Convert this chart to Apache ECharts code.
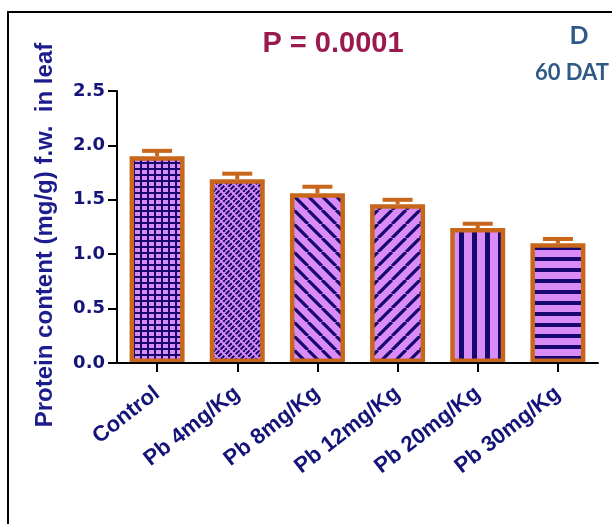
<!DOCTYPE html>
<html>
<head>
<meta charset="utf-8">
<script src="https://cdn.jsdelivr.net/npm/echarts@6/dist/echarts.min.js"></script>
<style>
  html, body { margin: 0; padding: 0; background: #ffffff; }
  #chart { width: 612px; height: 524px; }
</style>
</head>
<body>
<div id="chart"></div>
<script>
// Leaf protein content at 60 days after transplanting, by Pb dose
const categories = ['Control', 'Pb 4mg/Kg', 'Pb 8mg/Kg', 'Pb 12mg/Kg', 'Pb 20mg/Kg', 'Pb 30mg/Kg'];
const proteinMean = [1.90, 1.69, 1.56, 1.46, 1.24, 1.10];
const proteinErr = [0.05, 0.05, 0.06, 0.04, 0.04, 0.04];
const yTickValues = [0, 0.5, 1.0, 1.5, 2.0, 2.5];

const VIOLET = '#da8cf6';
const NAVY = '#16086e';
const ORANGE = '#c8661c';
const LABEL_BLUE = '#141478';
const FONT = '"Liberation Sans", Arial, sans-serif';
const WIDE_FONT = '"DejaVu Sans", Verdana, sans-serif';

// Build a repeating fill tile on a small canvas
function tile(w, h, draw) {
  const c = document.createElement('canvas');
  c.width = w; c.height = h;
  const g = c.getContext('2d');
  g.fillStyle = VIOLET;
  g.fillRect(0, 0, w, h);
  g.fillStyle = NAVY;
  g.strokeStyle = NAVY;
  draw(g, w, h);
  return { image: c, repeat: 'repeat' };
}

function diag(g, p, forward, lw, color) {
  g.save();
  g.strokeStyle = color || NAVY;
  g.lineWidth = lw;
  g.beginPath();
  for (const k of [-p, 0, p]) {
    if (forward) { g.moveTo(k, p); g.lineTo(k + p, 0); }
    else { g.moveTo(k, 0); g.lineTo(k + p, p); }
  }
  g.stroke();
  g.restore();
}

const fills = [
  // square grid
  tile(7, 6, (g, w, h) => { g.fillRect(0, 0, 2, h); g.fillRect(0, 0, w, 2); }),
  // short forward dashes in a brick layout
  tile(10, 10, (g) => {
    g.lineWidth = 2.1;
    g.beginPath();
    for (const k of [-10, -5, 0, 5, 10]) { g.moveTo(k, 10); g.lineTo(k + 10, 0); }
    g.stroke();
    diag(g, 10, false, 2.0, VIOLET);
  }),
  // wide backward diagonals
  tile(14, 14, (g) => diag(g, 14, false, 3.2)),
  // wide forward diagonals
  tile(14, 14, (g) => diag(g, 14, true, 3.2)),
  // vertical stripes
  tile(13, 2, (g, w, h) => g.fillRect(4, 0, 5, h)),
  // horizontal stripes
  tile(2, 11, (g, w) => g.fillRect(0, 4, w, 4))
];

const chart = echarts.init(document.getElementById('chart'));

const option = {
  backgroundColor: '#ffffff',
  animation: false,
  grid: { left: 117, right: 14, top: 91, bottom: 161, containLabel: false },
  xAxis: {
    type: 'category',
    data: categories,
    z: 5,
    axisLine: { show: true, lineStyle: { color: '#000000', width: 2 } },
    axisTick: { show: true, alignWithLabel: true, length: 9, lineStyle: { color: '#000000', width: 2 } },
    axisLabel: {
      interval: 0, rotate: 38, margin: 28,
      color: LABEL_BLUE, fontFamily: FONT, fontWeight: 'bold', fontSize: 22
    }
  },
  yAxis: {
    type: 'value',
    min: yTickValues[0],
    max: yTickValues[yTickValues.length - 1],
    interval: yTickValues[1] - yTickValues[0],
    z: 5,
    splitLine: { show: false },
    axisLine: { show: true, lineStyle: { color: '#000000', width: 2 } },
    axisTick: { show: true, length: 9, lineStyle: { color: '#000000', width: 2 } },
    axisLabel: {
      margin: 12,
      formatter: (v) => v.toFixed(1),
      color: LABEL_BLUE, fontFamily: WIDE_FONT, fontWeight: 'bold', fontSize: 18
    }
  },
  series: [
    {
      type: 'bar',
      barWidth: 55,
      data: proteinMean.map((v, i) => ({
        value: v,
        itemStyle: { color: fills[i], borderColor: ORANGE, borderWidth: 4.5 }
      }))
    },
    {
      type: 'custom',
      z: 3,
      data: categories.map((c, i) => [i, proteinMean[i], proteinErr[i]]),
      encode: { x: 0, y: 1 },
      renderItem: (params, api) => {
        const i = api.value(0);
        const m = api.value(1);
        const e = api.value(2);
        const top = api.coord([i, m + e]);
        const base = api.coord([i, m]);
        const half = 15;
        return {
          type: 'group',
          children: [
            { type: 'line', shape: { x1: top[0], y1: base[1], x2: top[0], y2: top[1] },
              style: { stroke: ORANGE, lineWidth: 4 } },
            { type: 'line', shape: { x1: top[0] - half, y1: top[1], x2: top[0] + half, y2: top[1] },
              style: { stroke: ORANGE, lineWidth: 4 } }
          ]
        };
      }
    }
  ],
  graphic: [
    { type: 'rect', shape: { x: 8, y: 12, width: 700, height: 600 },
      style: { fill: 'none', stroke: '#000000', lineWidth: 2 }, silent: true },
    { type: 'text', x: 45, y: 235, rotation: Math.PI / 2,
      style: { text: 'Protein content (mg/g) f.w.  in leaf', fill: '#1c1c8c',
        font: 'bold 24px ' + FONT, textAlign: 'center', textVerticalAlign: 'middle' } },
    { type: 'text', x: 333, y: 44,
      style: { text: 'P = 0.0001', fill: '#9a1a4e',
        font: 'bold 29px ' + FONT, textAlign: 'center', textVerticalAlign: 'middle' } },
    { type: 'text', x: 579, y: 36,
      style: { text: 'D', fill: '#2f5a88',
        font: 'bold 25px Lato, "Open Sans", sans-serif', textAlign: 'center', textVerticalAlign: 'middle' } },
    { type: 'text', x: 572, y: 73,
      style: { text: '60 DAT', fill: '#2f5a88',
        font: 'bold 22px Lato, "Open Sans", sans-serif', textAlign: 'center', textVerticalAlign: 'middle' } }
  ]
};

chart.setOption(option);
</script>
</body>
</html>
